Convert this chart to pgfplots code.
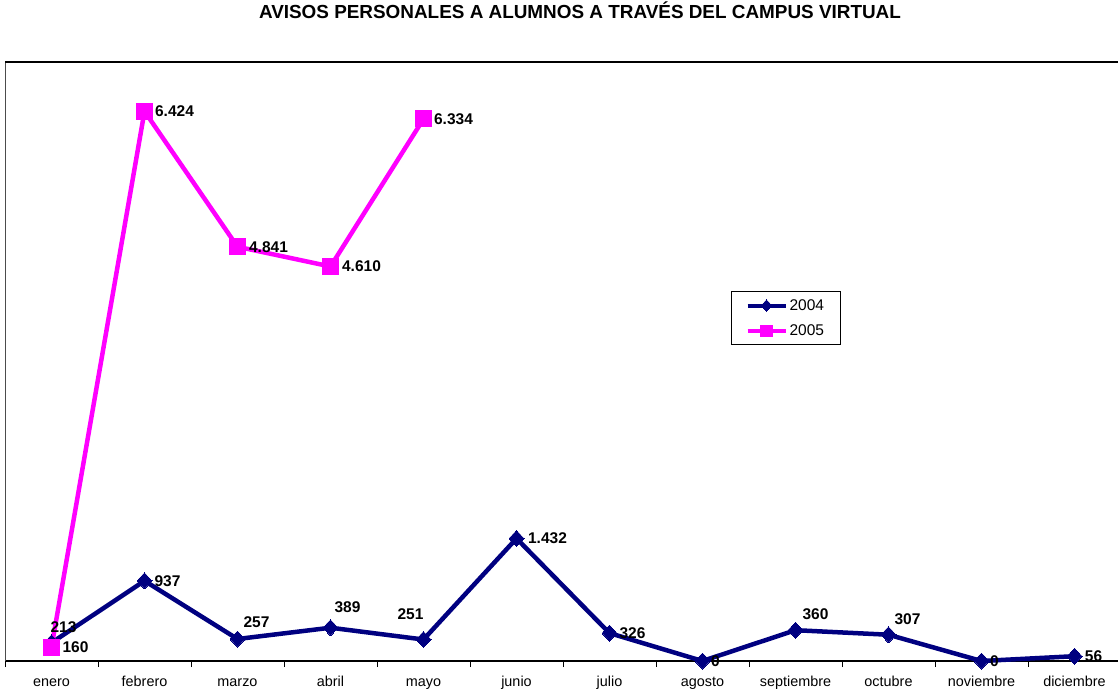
\documentclass[border=0pt]{standalone}
\usepackage{fontspec}
\setmainfont{Liberation Sans}
\usepackage{pgfplots}
\usepackage{pgfplotstable}
\pgfplotsset{compat=1.18}
\definecolor{navyc}{RGB}{0,0,128}
\definecolor{magc}{RGB}{255,0,255}

\pgfplotstableread{
x y lab dx dy
0 213 213 12 16
1 937 937 23 0
2 257 257 19 17
3 389 389 17 21
4 251 251 -13 25
5 1432 1.432 31 0
6 326 326 23 0
7 0 0 13 0
8 360 360 20 16
9 307 307 19 16
10 0 0 13 0
11 56 56 19 0
}\dataA

\pgfplotstableread{
x y lab dx dy
0 160 160 24 0
1 6424 6.424 30 0
2 4841 4.841 31 0
3 4610 4.610 31 0
4 6334 6.334 30 0
}\dataB

\begin{document}
\begin{tikzpicture}
\useasboundingbox (-5pt,-32pt) rectangle (1113pt,661pt);
\begin{axis}[
  at={(0,0)}, anchor=south west,
  scale only axis, width=1113pt, height=599pt,
  xmin=-0.5, xmax=11.468, ymin=0, ymax=7000,
  clip=false,
  axis x line*=bottom, axis y line*=left,
  x axis line style={line width=1.2pt, black},
  y axis line style={line width=0.9pt, black!70},
  ytick=\empty,
  xtick={0,1,2,3,4,5,6,7,8,9,10,11},
  xticklabels={enero,febrero,marzo,abril,mayo,junio,julio,agosto,septiembre,octubre,noviembre,diciembre},
  major tick length=0pt,
  minor xtick={-0.5,0.5,1.5,2.5,3.5,4.5,5.5,6.5,7.5,8.5,9.5,10.5,11.5},
  minor tick length=6pt,
  tick align=outside,
  minor tick style={line width=1pt, black},
  xticklabel style={font=\fontsize{14.4}{16}\selectfont, anchor=base, yshift=-25pt},
  title={AVISOS PERSONALES A ALUMNOS A TRAVÉS DEL CAMPUS VIRTUAL},
  title style={at={(0.5166,1)}, anchor=center, yshift=46pt, font=\bfseries\fontsize{18.9}{21}\selectfont},
  legend style={at={(0.6523,0.617)}, anchor=north west, draw=black, line width=1pt,
    font=\fontsize{15.5}{17}\selectfont, inner xsep=14pt, inner ysep=5.5pt, row sep=9pt,
    /tikz/every even column/.append style={column sep=0pt}},
  legend cell align=left,
  legend image code/.code={\draw[mark repeat=2,mark phase=2,#1,line width=4pt,every mark/.append style={scale=0.72}] plot coordinates {(0pt,0pt) (19pt,0pt) (38pt,0pt)};},
]
\addplot[navyc, line width=4.5pt, mark=diamond*, mark size=8pt, mark options={line width=0pt, xscale=1.25},
  point meta=explicit symbolic,
  visualization depends on={\thisrow{dx}\as\dx},
  visualization depends on={\thisrow{dy}\as\dy},
  nodes near coords,
  nodes near coords style={font=\bfseries\fontsize{15.5}{17}\selectfont, text=black, anchor=center, xshift=\dx, yshift=\dy}]
  table[x=x, y=y, meta=lab]{\dataA};
\addlegendentry{2004}
\addplot[magc, line width=4.5pt, mark=square*, mark size=8pt, mark options={line width=0pt},
  point meta=explicit symbolic,
  visualization depends on={\thisrow{dx}\as\dx},
  visualization depends on={\thisrow{dy}\as\dy},
  nodes near coords,
  nodes near coords style={font=\bfseries\fontsize{15.5}{17}\selectfont, text=black, anchor=center, xshift=\dx, yshift=\dy}]
  table[x=x, y=y, meta=lab]{\dataB};
\addlegendentry{2005}
\draw[line width=1.5pt, black] (rel axis cs:0,1) -- (rel axis cs:1,1);
\end{axis}
\end{tikzpicture}
\end{document}
